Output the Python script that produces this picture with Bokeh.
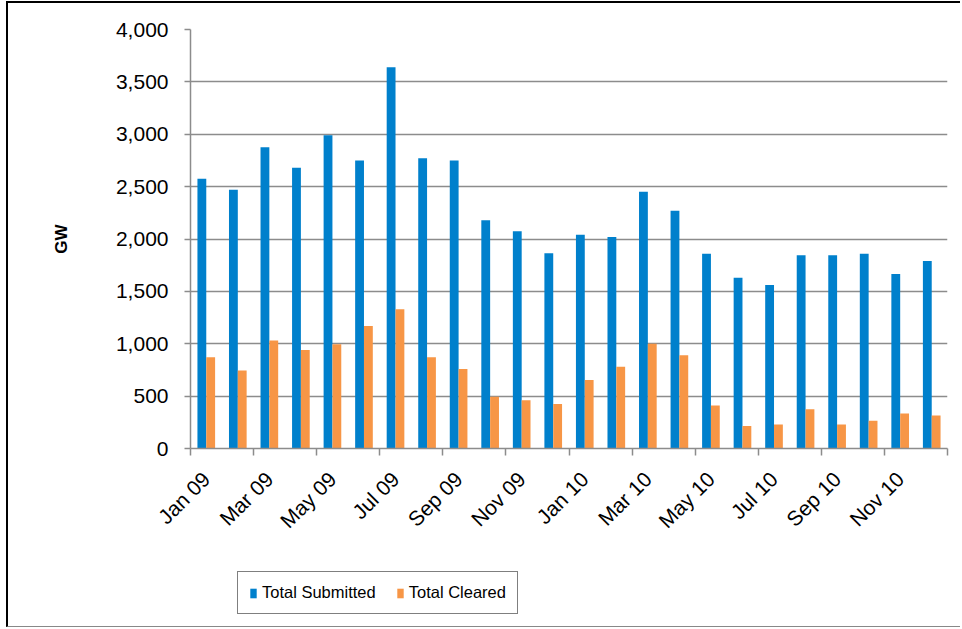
import math
from bokeh.plotting import figure
from bokeh.layouts import column
from bokeh.models import (ColumnDataSource, Range1d, FixedTicker, NumeralTickFormatter,
                          Legend, LegendItem)
from bokeh.transform import dodge
from bokeh.embed import file_html
from bokeh.resources import INLINE

months = ["Jan 09", "Feb 09", "Mar 09", "Apr 09", "May 09", "Jun 09",
          "Jul 09", "Aug 09", "Sep 09", "Oct 09", "Nov 09", "Dec 09",
          "Jan 10", "Feb 10", "Mar 10", "Apr 10", "May 10", "Jun 10",
          "Jul 10", "Aug 10", "Sep 10", "Oct 10", "Nov 10", "Dec 10"]
total_submitted = [2575, 2470, 2875, 2680, 2990, 2750, 3640, 2770, 2750, 2180, 2075, 1865,
                   2040, 2020, 2450, 2270, 1860, 1630, 1560, 1845, 1845, 1860, 1665, 1790]
total_cleared = [870, 745, 1030, 940, 995, 1170, 1330, 870, 760, 495, 460, 425,
                 655, 780, 1000, 890, 410, 215, 230, 375, 230, 265, 335, 315]
y_ticks = [0, 500, 1000, 1500, 2000, 2500, 3000, 3500, 4000]

FONT = "Liberation Sans"
BLUE = "#0080CC"
ORANGE = "#F79646"
GRID = "#8C8C8C"

xs = [i + 0.5 for i in range(len(months))]
src = ColumnDataSource(dict(x=xs, submitted=total_submitted, cleared=total_cleared, month=months))

W = 952
H1 = 540
H2 = 83

p = figure(width=W, height=H1, output_backend="svg", toolbar_location=None,
           x_range=Range1d(0, len(months)), y_range=Range1d(0, 4000),
           min_border_left=182, min_border_right=13, min_border_top=26, min_border_bottom=H1 - 447)
p.outline_line_color = None
p.background_fill_color = "white"
p.border_fill_color = "white"

r1 = p.vbar(x=dodge("x", -0.14, range=p.x_range), top="submitted", width=0.28, bottom=0,
            source=src, fill_color=BLUE, line_color=None)
r2 = p.vbar(x=dodge("x", 0.14, range=p.x_range), top="cleared", width=0.28, bottom=0,
            source=src, fill_color=ORANGE, line_color=None)

# x axis
label_pos = xs[::2]
p.xaxis.ticker = FixedTicker(ticks=label_pos, minor_ticks=list(range(0, len(months) + 1, 2)))
p.xaxis.major_label_overrides = {xs[i]: months[i] for i in range(0, len(months), 2)}
p.xaxis.major_label_orientation = math.pi / 4
p.xaxis.major_tick_out = 0
p.xaxis.major_tick_in = 0
p.xaxis.minor_tick_out = 7
p.xaxis.minor_tick_in = 0
p.xaxis.minor_tick_line_color = GRID
p.xaxis.minor_tick_line_width = 1.5
p.xaxis.axis_line_color = GRID
p.xaxis.axis_line_width = 1.5
p.xaxis.major_label_text_font = FONT
p.xaxis.major_label_text_font_size = "21px"
p.xaxis.major_label_text_color = "#000000"
p.xaxis.major_label_standoff = 20
p.xgrid.visible = False

# y axis
p.yaxis.ticker = FixedTicker(ticks=y_ticks)
p.yaxis.formatter = NumeralTickFormatter(format="0,0")
p.yaxis.major_tick_out = 6
p.yaxis.major_tick_in = 0
p.yaxis.minor_tick_out = 0
p.yaxis.minor_tick_in = 0
p.yaxis.major_tick_line_color = GRID
p.yaxis.major_tick_line_width = 1.5
p.yaxis.axis_line_color = GRID
p.yaxis.axis_line_width = 1.5
p.yaxis.major_label_text_font = FONT
p.yaxis.major_label_text_font_size = "21px"
p.yaxis.major_label_text_color = "#000000"
p.yaxis.major_label_standoff = 16
p.yaxis.axis_label = "GW"
p.yaxis.axis_label_text_font = FONT
p.yaxis.axis_label_text_font_style = "bold"
p.yaxis.axis_label_text_font_size = "17px"
p.yaxis.axis_label_text_color = "#000000"
p.yaxis.axis_label_standoff = 42
p.ygrid.grid_line_color = GRID
p.ygrid.grid_line_width = 1.5

# legend strip (separate figure so the legend is not clipped by the plot frame)
q = figure(width=W, height=H2, output_backend="svg", toolbar_location=None,
           x_range=Range1d(0, len(months)), y_range=Range1d(10000, 20000),
           min_border=0)
q.axis.visible = False
q.grid.visible = False
q.outline_line_color = None
q.background_fill_color = "white"
q.border_fill_color = "white"
l1 = q.vbar(x="x", top="submitted", width=0.28, bottom=0, source=src,
            fill_color=BLUE, line_color=None)
l2 = q.vbar(x="x", top="cleared", width=0.28, bottom=0, source=src,
            fill_color=ORANGE, line_color=None)

legend = Legend(items=[LegendItem(label="Total Submitted", renderers=[l1]),
                       LegendItem(label="Total Cleared", renderers=[l2])],
                orientation="horizontal", location=(47, 12),
                border_line_color="#000000", border_line_width=1.5,
                background_fill_color="white", background_fill_alpha=1,
                label_text_font=FONT, label_text_font_size="16.5px", label_text_color="#000000",
                glyph_width=8, glyph_height=12, label_standoff=5, spacing=20,
                padding=11, margin=0)
q.add_layout(legend, "center")

layout = column(p, q, spacing=0)
layout.styles = {"margin-left": "6px", "margin-top": "1px",
                 "border-left": "2px solid #000", "border-top": "2px solid #000",
                 "border-bottom": "1px solid #888"}

open("out.html", "w").write(file_html(layout, INLINE))
